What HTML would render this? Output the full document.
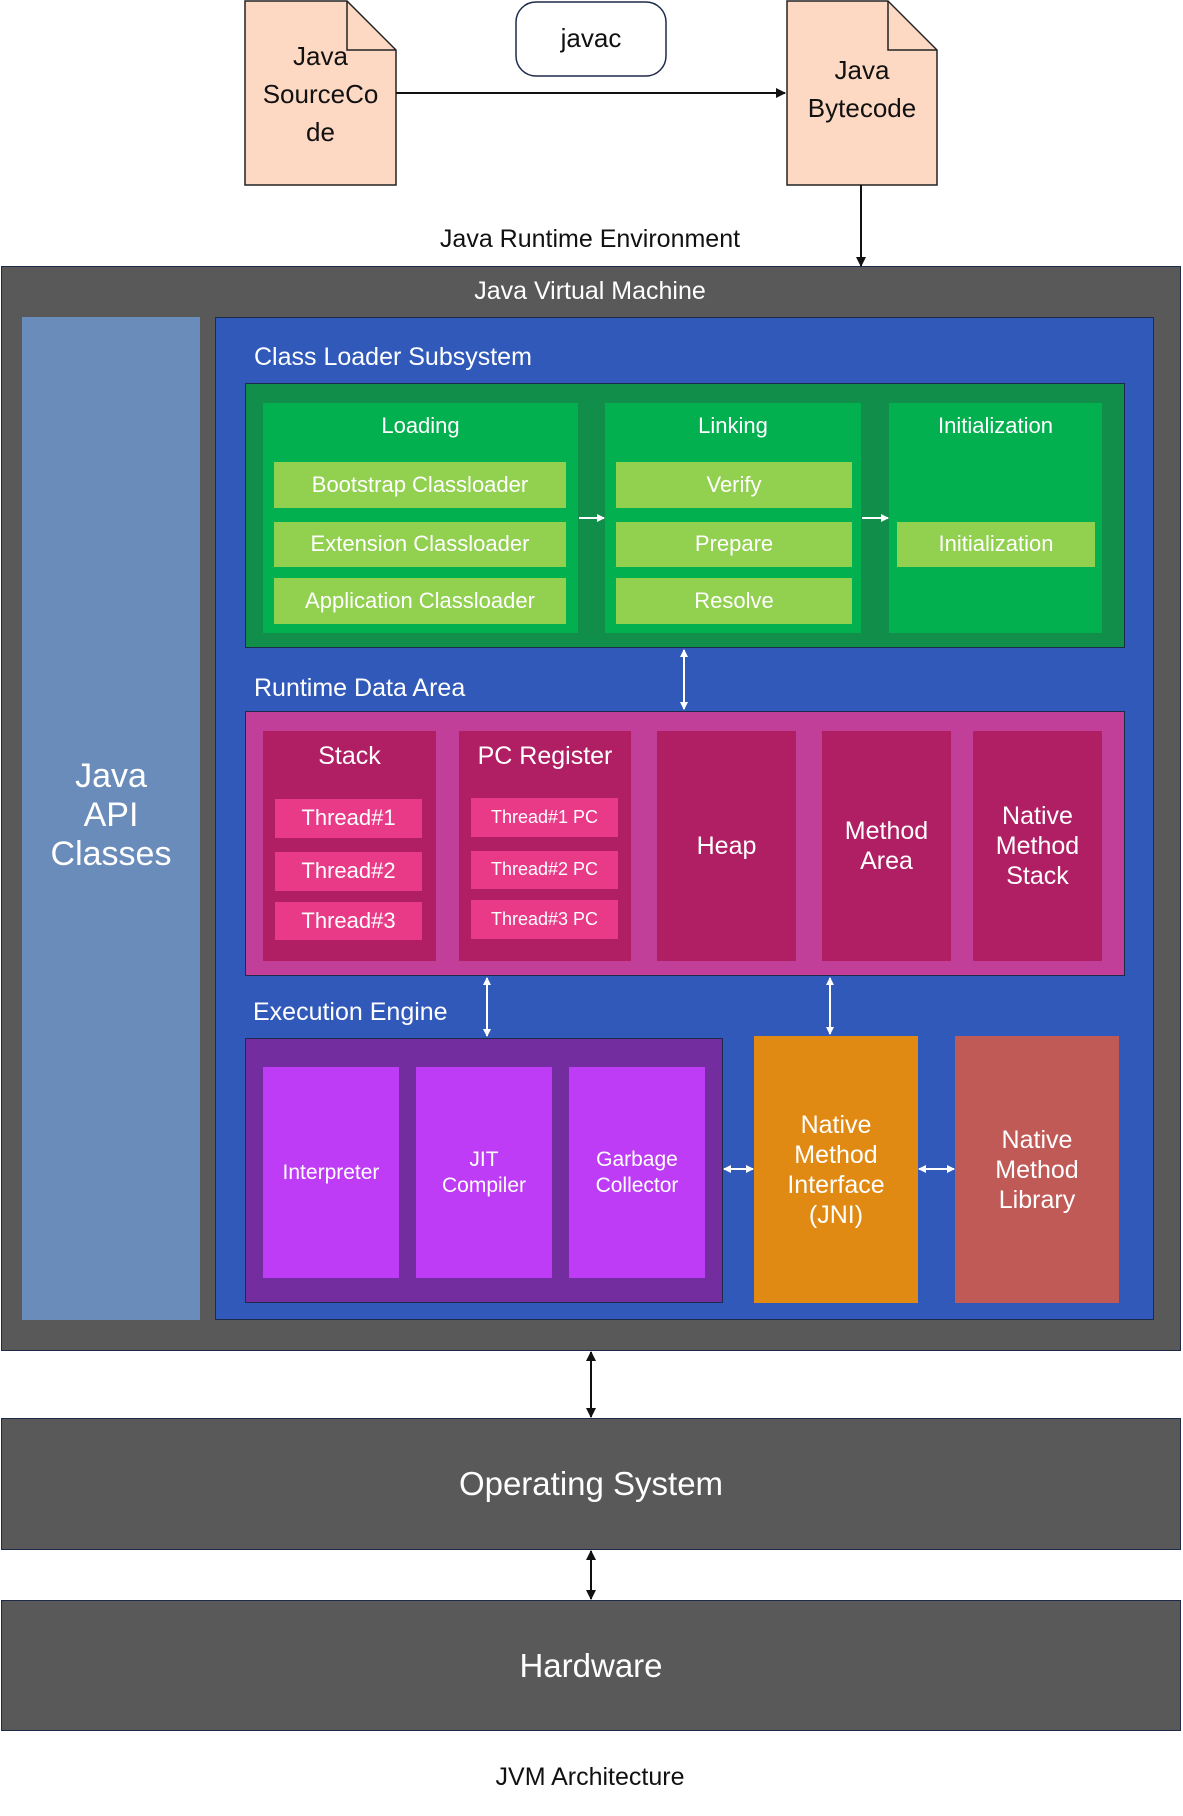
<!DOCTYPE html>
<html><head><meta charset="utf-8"><style>
*{margin:0;padding:0;box-sizing:border-box}
body{width:1183px;height:1816px;position:relative;background:#fff;font-family:"Liberation Sans",Arial,sans-serif;overflow:hidden}
.b{position:absolute;display:flex;align-items:center;justify-content:center;text-align:center;color:#fff;line-height:1.2}
.t{position:absolute;color:#fff;white-space:nowrap}
.lg{background:#92d050;font-size:22px}
.th{background:#e83a87;font-size:22px}
.pc{background:#e83a87;font-size:18px}
</style></head><body>
<!-- top docs -->
<svg style="position:absolute;left:0;top:0" width="1183" height="1816">
<path d="M245,1 H347 L396,50 V185 H245 Z" fill="#fdd9c3" stroke="#222" stroke-width="1.5"/>
<path d="M347,1 V50 H396" fill="none" stroke="#222" stroke-width="1.5"/>
<path d="M787,1 H888 L937,50 V185 H787 Z" fill="#fdd9c3" stroke="#222" stroke-width="1.5"/>
<path d="M888,1 V50 H937" fill="none" stroke="#222" stroke-width="1.5"/>
<rect x="516" y="2" width="150" height="74" rx="20" fill="#fff" stroke="#1e2a4a" stroke-width="1.5"/>
</svg>
<div class="b" style="left:245px;top:30px;width:151px;height:130px;color:#111;font-size:26px;line-height:1.45">Java<br>SourceCo<br>de</div>
<div class="b" style="left:787px;top:50px;width:150px;height:80px;color:#111;font-size:26px;line-height:1.45">Java<br>Bytecode</div>
<div class="b" style="left:516px;top:2px;width:150px;height:74px;color:#111;font-size:26px">javac</div>
<div class="b" style="left:390px;top:222px;width:400px;height:34px;color:#111;font-size:25px">Java Runtime Environment</div>
<!-- JVM -->
<div style="position:absolute;left:1px;top:266px;width:1180px;height:1085px;background:#595959;border:1.5px solid #1e2a4a"></div>
<div class="b" style="left:390px;top:274px;width:400px;height:34px;font-size:25px">Java Virtual Machine</div>
<div class="b" style="left:22px;top:317px;width:178px;height:1003px;background:#6a8cba;font-size:34px;align-items:flex-start;padding-top:440px;line-height:1.15">Java<br>API<br>Classes</div>
<div style="position:absolute;left:215px;top:317px;width:939px;height:1003px;background:#3059b9;border:1.5px solid #1e2a4a"></div>
<div class="t" style="left:254px;top:343px;font-size:25px">Class Loader Subsystem</div>
<div style="position:absolute;left:245px;top:383px;width:880px;height:265px;background:#108e4a;border:1.5px solid #1e2a4a"></div>
<div class="b" style="left:263px;top:403px;width:315px;height:230px;background:#03b050;font-size:22px;align-items:flex-start;padding-top:10px">Loading</div>
<div class="b" style="left:605px;top:403px;width:256px;height:230px;background:#03b050;font-size:22px;align-items:flex-start;padding-top:10px">Linking</div>
<div class="b" style="left:889px;top:403px;width:213px;height:230px;background:#03b050;font-size:22px;align-items:flex-start;padding-top:10px">Initialization</div>
<div class="b lg" style="left:274px;top:462px;width:292px;height:46px">Bootstrap Classloader</div>
<div class="b lg" style="left:274px;top:522px;width:292px;height:45px">Extension Classloader</div>
<div class="b lg" style="left:274px;top:578px;width:292px;height:46px">Application Classloader</div>
<div class="b lg" style="left:616px;top:462px;width:236px;height:46px">Verify</div>
<div class="b lg" style="left:616px;top:522px;width:236px;height:45px">Prepare</div>
<div class="b lg" style="left:616px;top:578px;width:236px;height:46px">Resolve</div>
<div class="b lg" style="left:897px;top:522px;width:198px;height:45px">Initialization</div>
<div class="t" style="left:254px;top:674px;font-size:25px">Runtime Data Area</div>
<div style="position:absolute;left:245px;top:711px;width:880px;height:265px;background:#c13f98;border:1.5px solid #1e2a4a"></div>
<div class="b" style="left:263px;top:731px;width:173px;height:230px;background:#b01f64;font-size:25px;align-items:flex-start;padding-top:10px">Stack</div>
<div class="b" style="left:459px;top:731px;width:172px;height:230px;background:#b01f64;font-size:25px;align-items:flex-start;padding-top:10px">PC Register</div>
<div class="b" style="left:657px;top:731px;width:139px;height:230px;background:#b01f64;font-size:25px">Heap</div>
<div class="b" style="left:822px;top:731px;width:129px;height:230px;background:#b01f64;font-size:25px">Method<br>Area</div>
<div class="b" style="left:973px;top:731px;width:129px;height:230px;background:#b01f64;font-size:25px">Native<br>Method<br>Stack</div>
<div class="b th" style="left:275px;top:799px;width:147px;height:39px">Thread#1</div>
<div class="b th" style="left:275px;top:852px;width:147px;height:39px">Thread#2</div>
<div class="b th" style="left:275px;top:902px;width:147px;height:38px">Thread#3</div>
<div class="b pc" style="left:471px;top:798px;width:147px;height:39px">Thread#1 PC</div>
<div class="b pc" style="left:471px;top:851px;width:147px;height:38px">Thread#2 PC</div>
<div class="b pc" style="left:471px;top:900px;width:147px;height:39px">Thread#3 PC</div>
<div class="t" style="left:253px;top:998px;font-size:25px">Execution Engine</div>
<div style="position:absolute;left:245px;top:1038px;width:478px;height:265px;background:#732d9e;border:1.5px solid #1e2a4a"></div>
<div class="b" style="left:263px;top:1067px;width:136px;height:211px;background:#bf3cf6;font-size:21px">Interpreter</div>
<div class="b" style="left:416px;top:1067px;width:136px;height:211px;background:#bf3cf6;font-size:21px">JIT<br>Compiler</div>
<div class="b" style="left:569px;top:1067px;width:136px;height:211px;background:#bf3cf6;font-size:21px">Garbage<br>Collector</div>
<div class="b" style="left:754px;top:1036px;width:164px;height:267px;background:#e08a14;font-size:25px">Native<br>Method<br>Interface<br>(JNI)</div>
<div class="b" style="left:955px;top:1036px;width:164px;height:267px;background:#c05a57;font-size:25px">Native<br>Method<br>Library</div>
<!-- OS / HW -->
<div class="b" style="left:1px;top:1418px;width:1180px;height:132px;background:#595959;border:1.5px solid #1e2a4a;font-size:33px">Operating System</div>
<div class="b" style="left:1px;top:1600px;width:1180px;height:131px;background:#595959;border:1.5px solid #1e2a4a;font-size:33px">Hardware</div>
<div class="b" style="left:390px;top:1760px;width:400px;height:34px;color:#111;font-size:25px">JVM Architecture</div>
<!-- arrows -->
<svg style="position:absolute;left:0;top:0" width="1183" height="1816">
<defs>
<marker id="k" markerWidth="10" markerHeight="10" refX="9" refY="5" orient="auto-start-reverse" markerUnits="userSpaceOnUse"><path d="M0,0 L10,5 L0,10 Z" fill="#111"/></marker>
<marker id="w" markerWidth="8" markerHeight="8" refX="7" refY="4" orient="auto-start-reverse" markerUnits="userSpaceOnUse"><path d="M0,0 L8,4 L0,8 Z" fill="#fff"/></marker>
</defs>
<line x1="396" y1="93" x2="785" y2="93" stroke="#111" stroke-width="2" marker-end="url(#k)"/>
<line x1="861" y1="185" x2="861" y2="266" stroke="#111" stroke-width="2" marker-end="url(#k)"/>
<line x1="591" y1="1352" x2="591" y2="1417" stroke="#111" stroke-width="2" marker-start="url(#k)" marker-end="url(#k)"/>
<line x1="591" y1="1551" x2="591" y2="1599" stroke="#111" stroke-width="2" marker-start="url(#k)" marker-end="url(#k)"/>
<g stroke="#fff" stroke-width="2">
<line x1="579" y1="518" x2="604" y2="518" marker-end="url(#w)"/>
<line x1="862" y1="518" x2="888" y2="518" marker-end="url(#w)"/>
<line x1="684" y1="650" x2="684" y2="709" marker-start="url(#w)" marker-end="url(#w)"/>
<line x1="487" y1="978" x2="487" y2="1036" marker-start="url(#w)" marker-end="url(#w)"/>
<line x1="830" y1="978" x2="830" y2="1034" marker-start="url(#w)" marker-end="url(#w)"/>
<line x1="724" y1="1169" x2="753" y2="1169" marker-start="url(#w)" marker-end="url(#w)"/>
<line x1="919" y1="1169" x2="954" y2="1169" marker-start="url(#w)" marker-end="url(#w)"/>
</g>
</svg>
</body></html>
